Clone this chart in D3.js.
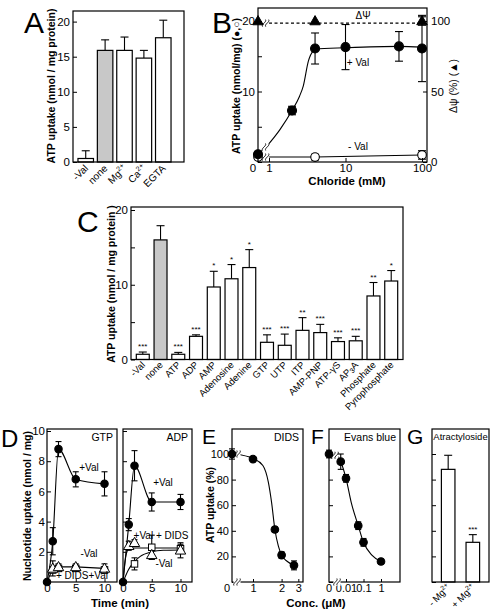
<!DOCTYPE html>
<html><head><meta charset="utf-8">
<script src="https://cdn.jsdelivr.net/npm/d3@7"></script>
<style>body{margin:0;background:#fff}svg text{font-family:"Liberation Sans",Arial,Helvetica,sans-serif}</style>
</head><body>
<svg id="c" width="490" height="612"></svg>
<script>
// ---------------- DATA ----------------
// Panel A
const aCats = ["-Val", "none", "Mg2+", "Ca2+", "EGTA"];
const aVals = [0.5, 15.9, 15.9, 14.8, 17.7];
const aErrs = [1.1, 1.5, 1.9, 1.1, 2.5];
const aTicks = [0, 5, 10, 15, 20];

// Panel B
const bValX = [0, 2, 4, 10, 50, 100];
const bValY = [1.1, 7.3, 16.1, 16.3, 16.4, 16.1];
const bValE = [0.3, 0.6, 2.2, 3.2, 2.1, 4.7];
const bNoValX = [0, 4, 100];
const bNoValY = [0.7, 0.7, 1.0];
const bNoValE = [0.3, 0.4, 0.6];
const bPsiX = [0, 4, 100];
const bPsiY = [100, 100, 100];
const bPsiE = [0, 0, 3];
const bFitX = [0.93, 1.39, 2, 2.5, 2.81, 3.27, 3.8, 4, 10, 50, 100];
const bFitY = [2.2, 4.6, 7.3, 9.3, 10.8, 14.3, 15.8, 16.0, 16.2, 16.4, 16.3];
const bPsiRef = 98.5;
const bYTicks = [0, 5, 10, 15, 20];
const bXTicks = [1, 10, 100];
const bRTicks = [0, 50, 100];

// Panel C
const cCats = ["-Val", "none", "ATP", "ADP", "AMP", "Adenosine", "Adenine", "GTP", "UTP", "ITP", "AMP-PNP", "ATP-\u03b3S", "AP3A", "Phosphate", "Pyrophosphate"];
const cVals = [0.7, 16.0, 0.7, 3.1, 9.7, 10.8, 12.3, 2.3, 1.9, 3.9, 3.6, 2.4, 2.5, 8.5, 10.5];
const cErrs = [0.3, 1.9, 0.25, 0.2, 2.1, 1.9, 2.4, 1.0, 1.5, 1.7, 1.1, 0.5, 0.6, 1.8, 1.4];
const cStars = ["***", "", "***", "***", "*", "*", "*", "***", "***", "**", "***", "***", "***", "**", "*"];
const cTicks = [0, 5, 10, 15, 20];

// Panel D
const dTimes = [0, 1, 2, 5, 10];
const gtpVal = [0, 2.7, 8.8, 6.8, 6.5];
const gtpValE = [0, 0.9, 0.5, 0.5, 0.8];
const gtpNoValT = [1, 2, 5, 10];
const gtpNoVal = [0.9, 1.0, 1.0, 0.9];
const gtpNoValE = [0.5, 0.2, 0.2, 0.3];
const gtpDidsT = [1, 2, 5, 10];
const gtpDids = [0.8, 0.9, 0.9, 0.8];
const gtpDidsE = [0.2, 0.2, 0.2, 0.2];
const adpVal = [0, 3.8, 7.7, 5.3, 5.3];
const adpValE = [0, 0.4, 1.0, 0.6, 0.5];
const adpNoValT = [1, 2, 5, 10];
const adpNoVal = [2.4, 2.6, 1.8, 2.1];
const adpNoValE = [0.3, 0.2, 0.3, 0.5];
const adpDidsT = [2, 5, 10];
const adpDids = [1.2, 2.3, 2.2];
const adpDidsE = [0.4, 0.8, 0.3];
const adpFitAT = [0, 0.3, 0.6, 1, 2, 5, 10];
const adpFitA = [0, 1.2, 1.9, 2.2, 2.25, 2.25, 2.25];
const adpFitBT = [0, 1, 2, 3, 5, 7, 10];
const adpFitB = [0, 0.85, 1.35, 1.7, 2.0, 2.1, 2.12];
const dYTicks = [2, 4, 6, 8, 10];
const dXTicks = [0, 5, 10];

// Panel E
const eX = [0, 1, 1.7, 2, 2.7];
const eY = [100, 96, 41, 21, 13];
const eE = [4, 2, 2, 2.5, 3.5];
const eFitX = [0.64, 1, 1.27, 1.45, 1.57, 1.7, 1.85, 2, 2.3, 2.7];
const eFitY = [100, 96.5, 91, 78, 62, 41, 28, 21, 16, 13];
const eYTicks = [0, 20, 40, 60, 80, 100];
const eXTicks = [1, 2, 3];

// Panel F
const fX = [0, 0.005, 0.01, 0.05, 0.1, 1];
const fY = [100, 94, 81, 44, 31, 16];
const fE = [3, 6, 3, 3, 3, 2];
const fFitX = [0.0035, 0.005, 0.01, 0.02, 0.05, 0.1, 0.3, 1];
const fFitY = [98, 94, 81, 62, 44, 31, 21, 16];
const fXTicks = [0.01, 0.1, 1];

// Panel G
const gCats = ["- Mg2+", "+ Mg2+"];
const gVals = [88, 31];
const gErrs = [11, 6];
const gStars = ["", "***"];

// ---------------- HELPERS ----------------
const svg = d3.select("#c");
const SW = 1.2;

function frame(x0, y0, x1, y1) {
  svg.append("rect").attr("x", x0).attr("y", y0).attr("width", x1 - x0).attr("height", y1 - y0)
    .attr("fill", "none").attr("stroke", "#000").attr("stroke-width", SW);
}
function styleAxis(g, fs) {
  g.select(".domain").remove();
  g.selectAll("line").attr("stroke", "#000").attr("stroke-width", 1);
  g.selectAll("text").attr("font-size", fs).attr("fill", "#000").attr("font-family", null);
}
function letter(t, x, y, fs) {
  svg.append("text").attr("x", x).attr("y", y).attr("font-size", fs).text(t);
}
function label(t, x, y, opts = {}) {
  const el = svg.append("text").attr("x", x).attr("y", y)
    .attr("font-size", opts.fs || 10).attr("text-anchor", opts.anchor || "middle")
    .attr("font-weight", opts.bold ? "bold" : "normal");
  if (opts.rot) el.attr("transform", `rotate(${opts.rot},${x},${y})`);
  richText(el, t, opts.fs || 10);
  return el;
}
function richText(el, t, fs) {
  const m = t.match(/^(.*?)(\d\+)$/);
  if (m && (t.includes("Mg") || t.includes("Ca"))) {
    el.append("tspan").text(m[1]);
    el.append("tspan").attr("font-size", fs * 0.7).attr("dy", -fs * 0.4).text(m[2]);
  } else if (t === "AP3A") {
    el.append("tspan").text("AP");
    el.append("tspan").attr("font-size", fs * 0.75).attr("dy", fs * 0.15).text("3");
    el.append("tspan").attr("dy", -fs * 0.15).text("A");
  } else el.text(t);
}
function errBar(x, y1, y2, capW, both) {
  svg.append("line").attr("x1", x).attr("x2", x).attr("y1", y1).attr("y2", y2).attr("stroke", "#000").attr("stroke-width", 1.1);
  svg.append("line").attr("x1", x - capW / 2).attr("x2", x + capW / 2).attr("y1", y2).attr("y2", y2).attr("stroke", "#000").attr("stroke-width", 1.1);
  if (both) svg.append("line").attr("x1", x - capW / 2).attr("x2", x + capW / 2).attr("y1", y1).attr("y2", y1).attr("stroke", "#000").attr("stroke-width", 1.1);
}
function brk(x, y) {
  svg.append("rect").attr("x", x - 3.5).attr("y", y - 4).attr("width", 7).attr("height", 8).attr("fill", "#fff");
  [-1.6, 1.6].forEach(dx => {
    svg.append("path").attr("d", `M${x + dx - 1.5},${y + 3.5} C${x + dx - 3},${y + 1} ${x + dx + 3},${y - 1} ${x + dx + 1.5},${y - 3.5}`)
      .attr("fill", "none").attr("stroke", "#000").attr("stroke-width", 0.9);
  });
}
function dot(x, y, r, filled) {
  svg.append("circle").attr("cx", x).attr("cy", y).attr("r", r)
    .attr("fill", filled ? "#000" : "#fff").attr("stroke", "#000").attr("stroke-width", 1.1);
}
function tri(x, y, s, filled) {
  svg.append("path").attr("d", `M${x},${y - s * 0.6} L${x + s * 0.58},${y + s * 0.42} L${x - s * 0.58},${y + s * 0.42} Z`)
    .attr("fill", filled ? "#000" : "#fff").attr("stroke", "#000").attr("stroke-width", 1);
}
function sq(x, y, s) {
  svg.append("rect").attr("x", x - s / 2).attr("y", y - s / 2).attr("width", s).attr("height", s)
    .attr("fill", "#fff").attr("stroke", "#000").attr("stroke-width", 1);
}
function pathLine(pts, curve, dash) {
  const p = svg.append("path").attr("d", d3.line().curve(curve || d3.curveLinear)(pts))
    .attr("fill", "none").attr("stroke", "#000").attr("stroke-width", 1.1);
  if (dash) p.attr("stroke-dasharray", dash);
}

// ---------------- PANEL A ----------------
{
  const L = 73, R = 184, T = 11, B = 162;
  const x = d3.scaleBand().domain(aCats).range([77, 172]).paddingInner(0.2).paddingOuter(0.05);
  const y = d3.scaleLinear().domain([0, (B - T) / 7.02]).range([B, T]);
  aCats.forEach((c, i) => {
    const xc = x(c) + x.bandwidth() / 2;
    errBar(xc, y(aVals[i]), y(aVals[i] + aErrs[i]), 8, false);
    svg.append("rect").attr("x", x(c)).attr("width", x.bandwidth()).attr("y", y(aVals[i])).attr("height", B - y(aVals[i]))
      .attr("fill", c === "none" ? "#c8c8c8" : "#fff").attr("stroke", "#000").attr("stroke-width", SW);
    label(c, xc + 3, B + 7, { fs: 10, anchor: "end", rot: -45 });
  });
  const ga = svg.append("g").attr("transform", `translate(${L},0)`)
    .call(d3.axisLeft(y).tickValues(aTicks).tickSize(-4).tickPadding(3));
  styleAxis(ga, 11.5);
  frame(L, T, R, B);
  label("ATP uptake (nmol / mg protein)", 55, 86, { fs: 10.5, bold: true, rot: -90 });
  letter("A", 24, 33, 30);
}

// ---------------- PANEL B ----------------
{
  const L = 258, R = 427, T = 8, B = 162;
  const x = d3.scaleLog().domain([1, 100]).range([269, 422]);
  const bx = v => v === 0 ? L : x(v);
  const y = d3.scaleLinear().domain([0, (B - T) / 7.05]).range([B, T]);
  const y2 = d3.scaleLinear().domain([0, (B - T) / 7.05 * 5]).range([B, T]);
  pathLine([[L, y2(bPsiRef)], [x(100), y2(bPsiRef)]], null, "3,2.5");
  pathLine(bNoValX.map((v, i) => [bx(v), y(bNoValY[i])]));
  pathLine([[bx(bValX[0]), y(bValY[0])], [x(bFitX[0]), y(bFitY[0])]]);
  pathLine(bFitX.map((v, i) => [x(v), y(bFitY[i])]), d3.curveMonotoneX);
  brk(x(bFitX[0]) - 1, y(bFitY[0]) + 0.5);
  brk(x(bFitX[0]) - 1, y(bNoValY[0]));
  brk(x(bFitX[0]) - 1, y2(bPsiRef));
  bValX.forEach((v, i) => errBar(bx(v), y(bValY[i] - bValE[i]), y(bValY[i] + bValE[i]), 8, true));
  bNoValX.forEach((v, i) => errBar(bx(v), y(bNoValY[i] - bNoValE[i]), y(bNoValY[i] + bNoValE[i]), 8, true));
  bPsiX.forEach((v, i) => { if (bPsiE[i]) errBar(bx(v), y2(bPsiY[i] - bPsiE[i]), y2(bPsiY[i] + bPsiE[i]), 8, true); });
  bNoValX.forEach((v, i) => dot(bx(v), y(bNoValY[i]), 4.3, false));
  bValX.forEach((v, i) => dot(bx(v), y(bValY[i]), 4.5, true));
  bPsiX.forEach((v, i) => tri(bx(v), y2(bPsiY[i]), 9, true));
  const gl = svg.append("g").attr("transform", `translate(${L},0)`)
    .call(d3.axisLeft(y).tickValues(bYTicks).tickSize(-4).tickPadding(3).tickFormat(d => (d === 10 || d === 20) ? d : ""));
  styleAxis(gl, 11.5);
  const gr = svg.append("g").attr("transform", `translate(${R},0)`)
    .call(d3.axisRight(y2).tickValues(bRTicks).tickSize(-4).tickPadding(4));
  styleAxis(gr, 11.5);
  const gb = svg.append("g").attr("transform", `translate(0,${B})`)
    .call(d3.axisBottom(x).tickValues(bXTicks).tickSize(-4).tickPadding(2).tickFormat(d3.format("d")));
  styleAxis(gb, 11.5);
  label("0", L - 5, B + 10, { fs: 11.5 });
  frame(L, T, R, B);
  label("\u0394\u03a8", 363, 19, { fs: 10 });
  label("+ Val", 358, 66, { fs: 10 });
  label("- Val", 358, 150, { fs: 10 });
  label("Chloride (mM)", 347, 185, { fs: 11.5, bold: true });
  label("ATP uptake (nmol/mg) (\u25cf,\u25cb)", 240, 86, { fs: 10.5, bold: true, rot: -90 });
  label("\u0394\u03c8  (%)  (\u25b2)", 457, 86, { fs: 10.5, rot: -90 });
  letter("B", 212, 33, 30);
}

// ---------------- PANEL C ----------------
{
  const L = 131, R = 403, T = 207, B = 359.5;
  const x = d3.scaleBand().domain(cCats).range([134, 400]).paddingInner(0.27).paddingOuter(0.13);
  const y = d3.scaleLinear().domain([0, (B - T) / 7.475]).range([B, T]);
  cCats.forEach((c, i) => {
    const xc = x(c) + x.bandwidth() / 2;
    const top = y(cVals[i] + cErrs[i]);
    errBar(xc, y(cVals[i]), top, 8, false);
    svg.append("rect").attr("x", x(c)).attr("width", x.bandwidth()).attr("y", y(cVals[i])).attr("height", B - y(cVals[i]))
      .attr("fill", c === "none" ? "#c8c8c8" : "#fff").attr("stroke", "#000").attr("stroke-width", SW);
    if (cStars[i]) label(cStars[i], xc, top - 3, { fs: 8 });
    label(c, xc + 3, B + 6, { fs: 9.5, anchor: "end", rot: -45 });
  });
  const gc = svg.append("g").attr("transform", `translate(${L},0)`)
    .call(d3.axisLeft(y).tickValues(cTicks).tickSize(-4).tickPadding(3).tickFormat(d => d % 10 === 0 ? d : ""));
  styleAxis(gc, 11.5);
  frame(L, T, R, B);
  label("ATP uptake (nmol / mg protein )", 115, 284, { fs: 10.5, bold: true, rot: -90 });
  letter("C", 77, 232, 30);
}

// ---------------- PANEL D ----------------
{
  const T = 429, B = 582;
  const y = d3.scaleLinear().domain([0, (B - T) / 15.1]).range([B, T]);
  const panels = [
    { L: 47, R: 117, name: "GTP", val: gtpVal, valE: gtpValE, nvT: gtpNoValT, nv: gtpNoVal, nvE: gtpNoValE, dT: gtpDidsT, d: gtpDids, dE: gtpDidsE },
    { L: 123, R: 192, name: "ADP", val: adpVal, valE: adpValE, nvT: adpNoValT, nv: adpNoVal, nvE: adpNoValE, dT: adpDidsT, d: adpDids, dE: adpDidsE }
  ];
  panels.forEach((p, k) => {
    const x = d3.scaleLinear().domain([0, 12]).range([p.L, p.L + 12 * 5.75]);
    pathLine(dTimes.map((t, i) => [x(t), y(p.val[i])]), d3.curveMonotoneX);
    if (k === 0) {
      pathLine([[x(0), y(0)]].concat(p.nvT.map((t, i) => [x(t), y(p.nv[i])])));
    } else {
      pathLine(adpFitAT.map((t, i) => [x(t), y(adpFitA[i])]), d3.curveMonotoneX);
      pathLine(adpFitBT.map((t, i) => [x(t), y(adpFitB[i])]), d3.curveMonotoneX);
    }
    dTimes.forEach((t, i) => { if (p.valE[i]) errBar(x(t), y(p.val[i] - p.valE[i]), y(p.val[i] + p.valE[i]), 6, true); });
    p.nvT.forEach((t, i) => errBar(x(t), y(p.nv[i] - p.nvE[i]), y(p.nv[i] + p.nvE[i]), 6, true));
    p.dT.forEach((t, i) => errBar(x(t), y(p.d[i] - p.dE[i]), y(p.d[i] + p.dE[i]), 6, true));
    p.dT.forEach((t, i) => sq(x(t), y(p.d[i]), 6.5));
    p.nvT.forEach((t, i) => tri(x(t), y(p.nv[i]), 9, false));
    dTimes.forEach((t, i) => dot(x(t), y(p.val[i]), 3.7, true));
    const gl = svg.append("g").attr("transform", `translate(${p.L},0)`)
      .call(d3.axisLeft(y).tickValues(dYTicks).tickSize(-4).tickPadding(2).tickFormat(k === 0 ? d3.format("d") : ""));
    styleAxis(gl, 11.5);
    const gb = svg.append("g").attr("transform", `translate(0,${B})`)
      .call(d3.axisBottom(x).tickValues(dXTicks).tickSize(-3).tickPadding(2));
    styleAxis(gb, 11.5);
    frame(p.L, T, p.R, B);
    label(p.name, p.R - 4, T + 12, { fs: 10.5, anchor: "end" });
  });
  label("+Val", 89, 471, { fs: 10 });
  label("-Val", 89, 557, { fs: 10 });
  label("+ DIDS+Val", 82, 579, { fs: 10 });
  label("+Val", 163, 486, { fs: 10 });
  label("+Val + DIDS", 161, 539, { fs: 10 });
  label("-Val", 164, 567, { fs: 10 });
  label("Time (min)", 120, 607, { fs: 11.5, bold: true });
  label("Nucleotide uptake (nmol / mg)", 31, 506, { fs: 10.5, bold: true, rot: -90 });
  letter("D", 1, 447, 24);
}

// ---------------- PANEL E / F / G common y ----------------
const T2 = 429, B2 = 582;
const yP = d3.scaleLinear().domain([0, (B2 - T2) / 1.28]).range([B2, T2]);

// ---------------- PANEL E ----------------
{
  const L = 232, R = 303;
  const x = d3.scaleLog().domain([1, 3]).range([253, 253 + Math.log10(3) * 95]);
  const ex = v => v === 0 ? L : x(v);
  pathLine([[ex(0), yP(eY[0])], [x(eFitX[0]), yP(eFitY[0])]]);
  pathLine(eFitX.map((v, i) => [x(v), yP(eFitY[i])]), d3.curveMonotoneX);
  brk(237, yP(100));
  eX.forEach((v, i) => errBar(ex(v), yP(eY[i] - eE[i]), yP(eY[i] + eE[i]), 6, true));
  eX.forEach((v, i) => dot(ex(v), yP(eY[i]), 3.8, true));
  const gl = svg.append("g").attr("transform", `translate(${L},0)`)
    .call(d3.axisLeft(yP).tickValues(eYTicks).tickSize(-4).tickPadding(3).tickFormat(d => d === 0 ? "" : d));
  styleAxis(gl, 11);
  const gb = svg.append("g").attr("transform", `translate(0,${B2})`)
    .call(d3.axisBottom(x).tickValues(eXTicks).tickSize(-3).tickPadding(2).tickFormat(d3.format("d")));
  styleAxis(gb, 11);
  label("0", L - 5, B2 + 10, { fs: 11 });
  frame(L, T2, R, B2);
  brk(237, B2);
  label("DIDS", R - 4, T2 + 12, { fs: 10.5, anchor: "end" });
  label("ATP uptake (%)", 214, 505, { fs: 10.5, bold: true, rot: -90 });
  letter("E", 202, 444, 21);
}

// ---------------- PANEL F ----------------
{
  const L = 329, R = 400;
  const x = d3.scaleLog().domain([0.01, 1]).range([346, 381]);
  const fx = v => v === 0 ? L : x(v);
  pathLine([[fx(0), yP(fY[0])], [x(fFitX[0]), yP(fFitY[0])]]);
  pathLine(fFitX.map((v, i) => [x(v), yP(fFitY[i])]), d3.curveMonotoneX);
  brk(335, yP(99));
  fX.forEach((v, i) => errBar(fx(v), yP(fY[i] - fE[i]), yP(fY[i] + fE[i]), 6, true));
  fX.forEach((v, i) => dot(fx(v), yP(fY[i]), 3.8, true));
  const gl = svg.append("g").attr("transform", `translate(${L},0)`)
    .call(d3.axisLeft(yP).tickValues(eYTicks).tickSize(-4).tickFormat(""));
  styleAxis(gl, 11);
  const gb = svg.append("g").attr("transform", `translate(0,${B2})`)
    .call(d3.axisBottom(x).tickValues(fXTicks).tickSize(-3).tickPadding(2).tickFormat(d => String(d)));
  styleAxis(gb, 11);
  label("0", L, B2 + 10, { fs: 11 });
  frame(L, T2, R, B2);
  brk(337, B2);
  label("Evans blue", R - 4, T2 + 12, { fs: 10.5, anchor: "end" });
  label("Conc. (\u03bcM)", 316, 607, { fs: 11.5, bold: true });
  letter("F", 311, 444, 21);
}

// ---------------- PANEL G ----------------
{
  const L = 432, R = 489;
  const x = d3.scaleBand().domain(gCats).range([434, 487]).paddingInner(0.45).paddingOuter(0.3);
  gCats.forEach((c, i) => {
    const xc = x(c) + x.bandwidth() / 2;
    const top = yP(gVals[i] + gErrs[i]);
    errBar(xc, yP(gVals[i]), top, 8, false);
    svg.append("rect").attr("x", x(c)).attr("width", x.bandwidth()).attr("y", yP(gVals[i])).attr("height", B2 - yP(gVals[i]))
      .attr("fill", "#fff").attr("stroke", "#000").attr("stroke-width", SW);
    if (gStars[i]) label(gStars[i], xc, top - 3, { fs: 8 });
    label(c, xc + 3, B2 + 6, { fs: 9.5, anchor: "end", rot: -45 });
  });
  const gl = svg.append("g").attr("transform", `translate(${L},0)`)
    .call(d3.axisLeft(yP).tickValues(eYTicks).tickSize(-4).tickFormat(""));
  styleAxis(gl, 11);
  frame(L, T2, R, B2);
  label("Atractyloside", 460.5, T2 + 11, { fs: 9.5 });
  letter("G", 407, 444, 21);
}
</script>
</body></html>
